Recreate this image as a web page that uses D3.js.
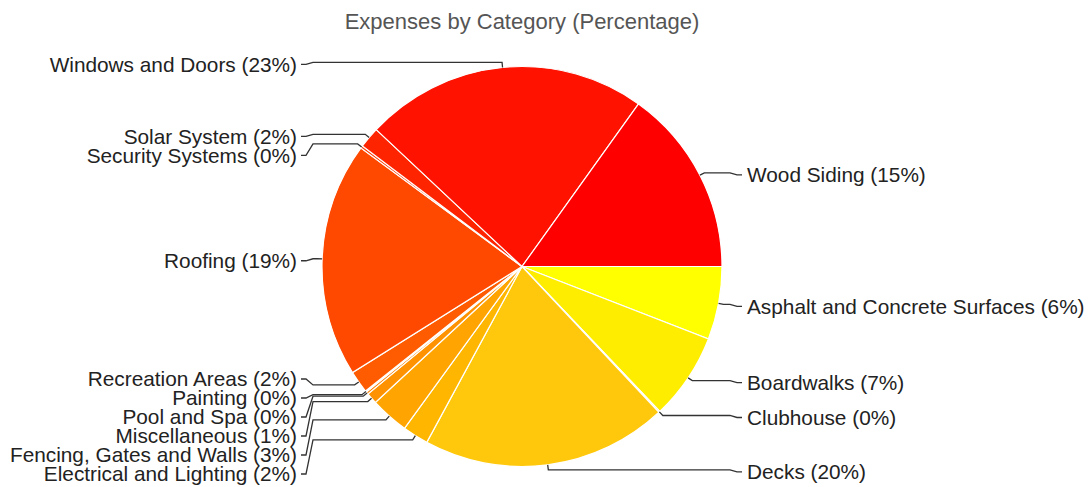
<!DOCTYPE html>
<html>
<head>
<meta charset="utf-8">
<script src="https://cdn.jsdelivr.net/npm/d3@7"></script>
<style>
  body { margin: 0; background: #fff; }
  svg { display: block; font-family: "Liberation Sans", Arial, sans-serif; }
</style>
</head>
<body>
<div id="chart"></div>
<script>
const width = 1088;
const height = 487;
const cx = 522, cy = 266.5;
const radius = 200;

// chart data, clockwise from 3 o'clock
const categories = [
    "Asphalt and Concrete Surfaces", "Boardwalks", "Clubhouse", "Decks",
    "Electrical and Lighting", "Fencing, Gates and Walls", "Miscellaneous",
    "Pool and Spa", "Painting", "Recreation Areas", "Roofing",
    "Security Systems", "Solar System", "Windows and Doors", "Wood Siding"
];
const percentages = [5.9, 7.0, 0.1, 19.9, 2.1, 3.1, 0.9, 0.2, 0.1, 1.8, 19.0, 0.2, 1.7, 22.9, 15.1];
const sliceColors = [
    "#ffff00", "#ffed00", "#ffdb00", "#ffc80c", "#ffb600", "#ffa400", "#ff9200",
    "#ff8000", "#ff6d00", "#ff5b00", "#ff4900", "#ff3600", "#ff2400", "#ff1200", "#ff0000"
];
const title = "Expenses by Category (Percentage)";

const data = categories.map((c, i) => ({ name: c, value: percentages[i], color: sliceColors[i] }));

const svg = d3.select("#chart").append("svg")
    .attr("width", width)
    .attr("height", height);

svg.append("text")
    .attr("x", cx)
    .attr("y", 21)
    .attr("dy", "0.35em")
    .attr("text-anchor", "middle")
    .style("font-size", "22px")
    .style("fill", "#555")
    .text(title);

const pie = d3.pie()
    .sort(null)
    .value(d => d.value)
    .startAngle(Math.PI / 2)
    .endAngle(Math.PI / 2 + Math.PI * 2);

const arcs = pie(data);
const arc = d3.arc().innerRadius(0).outerRadius(radius);

const g = svg.append("g").attr("transform", `translate(${cx},${cy})`);

g.selectAll("path.slice")
    .data(arcs)
    .enter()
    .append("path")
    .attr("class", "slice")
    .attr("d", arc)
    .style("fill", d => d.data.color)
    .style("stroke", "#fff")
    .style("stroke-width", 1.2);

// label layout
const labels = arcs.map(d => {
    const a = (d.startAngle + d.endAngle) / 2;
    const right = Math.sin(a) >= 0;
    const ex = cx + radius * Math.sin(a), ey = cy - radius * Math.cos(a);
    const bx = cx + (radius + 5) * Math.sin(a), by = cy - (radius + 5) * Math.cos(a);
    return { d, right, ex, ey, bx, by, y: by + 2 };
});

const spacing = 19, minY = 40, maxY = 474;
[true, false].forEach(side => {
    const list = labels.filter(l => l.right === side).sort((a, b) => a.y - b.y);
    for (let i = 0; i < list.length; i++) {
        if (i > 0) list[i].y = Math.max(list[i].y, list[i - 1].y + spacing);
        list[i].y = Math.max(list[i].y, minY);
    }
    for (let i = list.length - 1; i >= 0; i--) {
        if (i === list.length - 1) list[i].y = Math.min(list[i].y, maxY);
        else list[i].y = Math.min(list[i].y, list[i + 1].y - spacing);
    }
});

const lineRight = 742, textRight = 747;
const lineLeft = 301, textLeft = 297;

svg.selectAll("path.connector")
    .data(labels)
    .enter()
    .append("path")
    .attr("class", "connector")
    .attr("d", l => {
        const lx = l.right ? lineRight : lineLeft;
        const s = l.right ? -1 : 1;
        const p = d3.path();
        p.moveTo(l.ex, l.ey);
        p.lineTo(l.bx, l.by);
        p.lineTo(lx + s * 12, l.by);
        p.lineTo(lx + s * 5, l.y);
        p.lineTo(lx, l.y);
        return p.toString();
    })
    .style("fill", "none")
    .style("stroke", "#333")
    .style("stroke-width", 1.3);

svg.selectAll("text.label")
    .data(labels)
    .enter()
    .append("text")
    .attr("class", "label")
    .attr("x", l => l.right ? textRight : textLeft)
    .attr("y", l => l.y)
    .attr("dy", "0.35em")
    .attr("text-anchor", l => l.right ? "start" : "end")
    .style("font-size", "20.8px")
    .style("fill", "#222")
    .text(l => `${l.d.data.name} (${Math.round(l.d.data.value)}%)`);
</script>
</body>
</html>
